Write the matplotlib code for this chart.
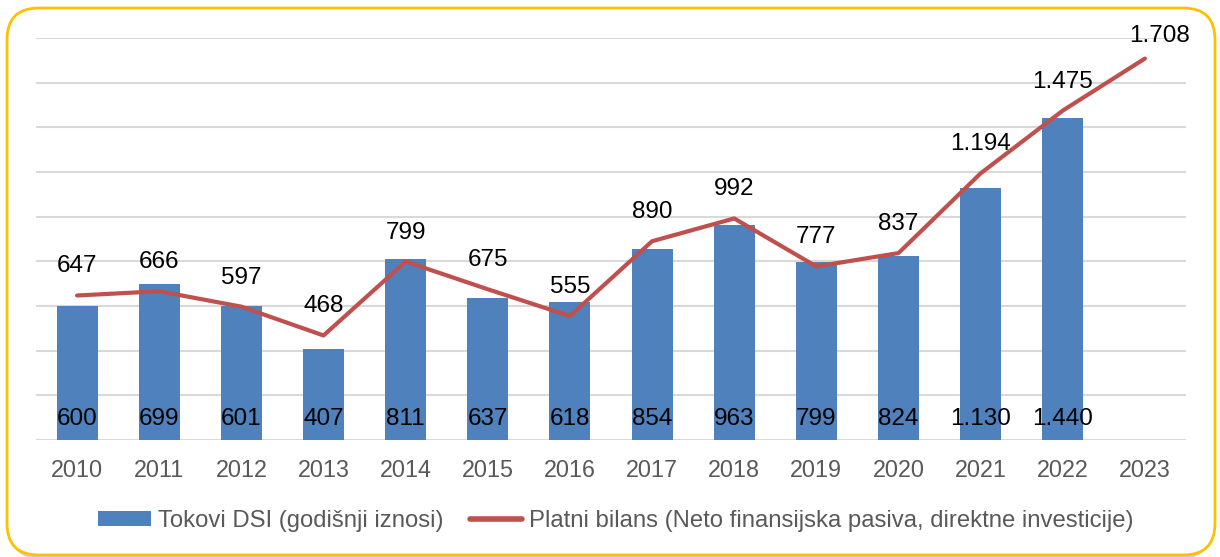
import matplotlib.pyplot as plt
import numpy as np
from matplotlib.patches import FancyBboxPatch, Patch
from matplotlib.lines import Line2D

plt.rcParams['font.family'] = ['Liberation Sans', 'DejaVu Sans']

years = ['2010', '2011', '2012', '2013', '2014', '2015', '2016',
         '2017', '2018', '2019', '2020', '2021', '2022', '2023']
dsi = [600, 699, 601, 407, 811, 637, 618, 854, 963, 799, 824, 1130, 1440]
bilans = [647, 666, 597, 468, 799, 675, 555, 890, 992, 777, 837, 1194, 1475, 1708]

BAR_COLOR = '#4F81BD'
LINE_COLOR = '#C0504D'
TEXT_GRAY = '#595959'
W, H = 1220, 557


def fmt(v):
    return f'{v:,}'.replace(',', '.')


fig = plt.figure(figsize=(W / 100, H / 100), dpi=100)

# rounded frame with a soft shadow on the right
shadow = FancyBboxPatch((10 / W, 1 - 557 / H), (1208 - 7) / W, (557 - 11) / H,
                        boxstyle='round,pad=0,rounding_size=0.026',
                        transform=fig.transFigure, facecolor='none',
                        edgecolor='#D0D0D0', linewidth=3, mutation_aspect=W / H, zorder=-2)
border = FancyBboxPatch((7 / W, 1 - 555 / H), (1215 - 7) / W, (555 - 8) / H,
                        boxstyle='round,pad=0,rounding_size=0.026',
                        transform=fig.transFigure, facecolor='white',
                        edgecolor='#FFC000', linewidth=2, mutation_aspect=W / H, zorder=-1)
fig.patches.append(shadow)
fig.patches.append(border)

ax = fig.add_axes([36 / W, 1 - 440 / H, (1186 - 36) / W, (440 - 38) / H])
ax.patch.set_visible(False)

x = np.arange(len(years))
ax.bar(x[:len(dsi)], dsi, width=0.5, color=BAR_COLOR, zorder=2)
ax.plot(x, bilans, color=LINE_COLOR, linewidth=3, solid_capstyle='round', zorder=3)

# bar labels at the base of the bars
for xi, v in zip(x, dsi):
    ax.text(xi, 92, fmt(v), ha='center', va='center', fontsize=17.5, color='black', zorder=4)

# line labels above points
for xi, v in zip(x, bilans):
    last = xi == len(years) - 1
    dx = 0.18 if last else 0
    dy = 8 if last else 13
    ax.annotate(fmt(v), (xi + dx, v), xytext=(0, dy), textcoords='offset points',
                ha='center', va='bottom', fontsize=17.5, color='black', zorder=4,
                annotation_clip=False)

ax.set_xlim(-0.5, len(years) - 0.5)
ax.set_ylim(0, 1800)
ax.set_yticks(np.arange(0, 1801, 200))
ax.yaxis.grid(True, color='#D9D9D9', linewidth=1.5, zorder=0)
ax.set_yticklabels([])
ax.tick_params(axis='y', length=0)
ax.set_xticks(x)
ax.set_xticklabels(years, fontsize=16.8, color=TEXT_GRAY)
ax.tick_params(axis='x', length=0, pad=14)
for s in ax.spines.values():
    s.set_visible(False)

handles = [Patch(facecolor=BAR_COLOR, edgecolor='none'),
           Line2D([0], [0], color=LINE_COLOR, linewidth=4, solid_capstyle='round')]
labels = ['Tokovi DSI (godišnji iznosi)',
          'Platni bilans (Neto finansijska pasiva, direktne investicije)']
fig.legend(handles, labels, loc='center', bbox_to_anchor=(616 / W, 1 - 521 / H), ncol=2,
           frameon=False, fontsize=17.2, labelcolor=TEXT_GRAY, handlelength=2.2,
           handleheight=0.55, handletextpad=0.3, columnspacing=1.1)

fig.savefig('out.png', dpi=100)
